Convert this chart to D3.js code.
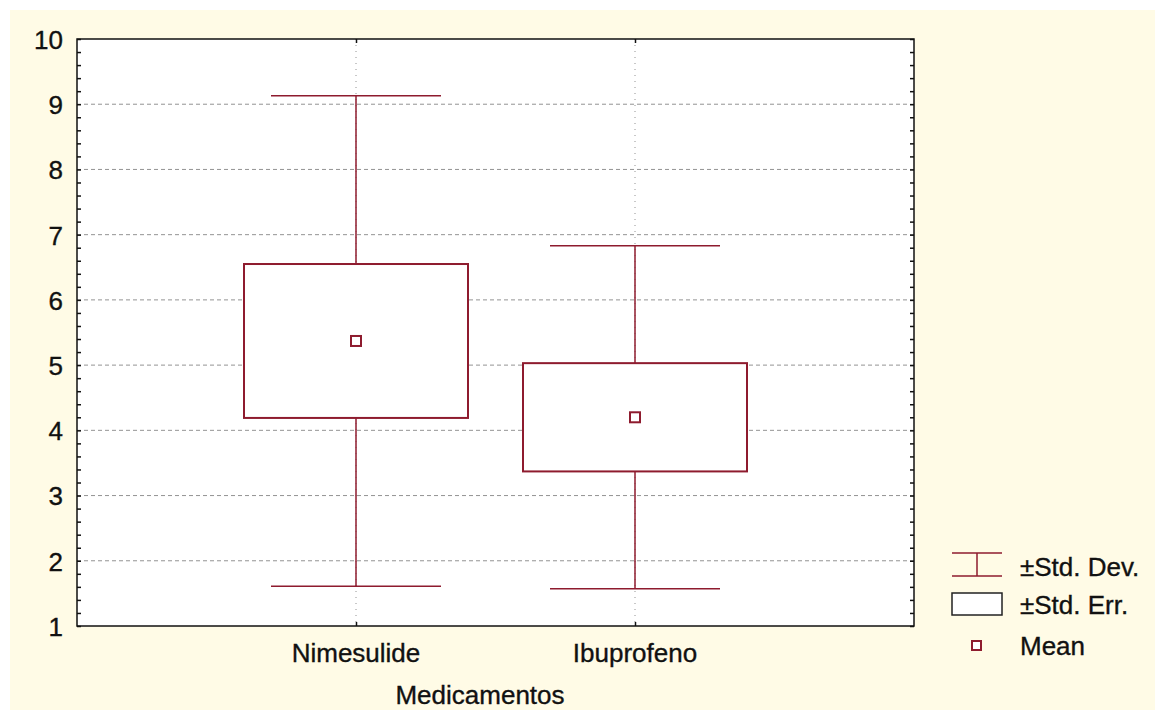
<!DOCTYPE html>
<html>
<head>
<meta charset="utf-8">
<script src="https://cdn.jsdelivr.net/npm/d3@7"></script>
<style>
  body { margin: 0; background: #fff; }
  text { font-family: "Liberation Sans", Arial, sans-serif; fill: #111; stroke: #111; stroke-width: 0.35px; }
</style>
</head>
<body>
<svg width="1155" height="718"></svg>
<script>
  // data
  const categories = ['Nimesulide', 'Ibuprofeno'];
  const means = [5.37, 4.20];
  const stdErr = [1.18, 0.83];
  const stdDev = [3.76, 2.63];
  const yTicks = [1, 2, 3, 4, 5, 6, 7, 8, 9, 10];
  const legendItems = ['±Std. Dev.', '±Std. Err.', 'Mean'];

  const width = 1155, height = 718;
  const margin = {left: 77, right: 241, top: 39, bottom: 92};
  const innerW = width - margin.left - margin.right;
  const innerH = height - margin.top - margin.bottom;
  const red = '#8e1b2e';

  const svg = d3.select('svg');

  svg.append('rect')
    .attr('x', 10).attr('y', 10)
    .attr('width', width - 10).attr('height', 700)
    .attr('fill', '#fffbe6');

  const g = svg.append('g')
    .attr('transform', `translate(${margin.left},${margin.top})`);

  const x = d3.scaleLinear().domain([0, 3]).range([0, innerW]);
  const xPos = (i) => x(i + 1);
  const y = d3.scaleLinear().domain([1, 10]).range([innerH, 0]);

  g.append('rect')
    .attr('width', innerW).attr('height', innerH)
    .attr('fill', '#fff');

  // horizontal dashed grid
  g.selectAll('.hgrid')
    .data(yTicks.filter(d => d > 1 && d < 10))
    .enter().append('line')
      .attr('class', 'hgrid')
      .attr('x1', 0).attr('x2', innerW)
      .attr('y1', d => y(d)).attr('y2', d => y(d))
      .attr('stroke', '#777').attr('stroke-width', 0.8)
      .attr('stroke-dasharray', '4,3');

  // vertical dotted grid
  g.selectAll('.vgrid')
    .data(categories)
    .enter().append('line')
      .attr('class', 'vgrid')
      .attr('x1', (d, i) => xPos(i)).attr('x2', (d, i) => xPos(i))
      .attr('y1', 0).attr('y2', innerH)
      .attr('stroke', '#777').attr('stroke-width', 0.8)
      .attr('stroke-dasharray', '1,5');

  // whiskers, boxes, means
  const capHalf = 85, boxHalf = 112;
  categories.forEach((c, i) => {
    const cx = xPos(i);
    const lo = means[i] - stdDev[i], hi = means[i] + stdDev[i];
    g.append('line')
      .attr('x1', cx).attr('x2', cx)
      .attr('y1', y(hi)).attr('y2', y(lo))
      .attr('stroke', red).attr('stroke-width', 1.5);
    [lo, hi].forEach(v => {
      g.append('line')
        .attr('x1', cx - capHalf).attr('x2', cx + capHalf)
        .attr('y1', y(v)).attr('y2', y(v))
        .attr('stroke', red).attr('stroke-width', 1.5);
    });
    g.append('rect')
      .attr('x', cx - boxHalf)
      .attr('y', y(means[i] + stdErr[i]))
      .attr('width', boxHalf * 2)
      .attr('height', y(means[i] - stdErr[i]) - y(means[i] + stdErr[i]))
      .attr('fill', '#fff')
      .attr('stroke', red).attr('stroke-width', 2);
    g.append('rect')
      .attr('x', cx - 5).attr('y', y(means[i]) - 5)
      .attr('width', 10).attr('height', 10)
      .attr('fill', '#fff')
      .attr('stroke', red).attr('stroke-width', 2);
  });

  // frame
  g.append('rect')
    .attr('width', innerW).attr('height', innerH)
    .attr('fill', 'none').attr('stroke', '#111').attr('stroke-width', 1.5);

  // y axes (left & right) with inward minor ticks
  const minor = d3.range(1, 10.001, 0.2);
  g.append('g')
    .call(d3.axisLeft(y).tickValues(yTicks).tickSize(0).tickPadding(14).tickFormat(d3.format('d')))
    .call(a => a.select('.domain').remove())
    .selectAll('text')
      .style('font-size', '26px')
      .attr('dy', '0.36em')
      .attr('fill', '#111');
  g.append('g')
    .call(d3.axisRight(y).tickValues(minor).tickSize(4).tickFormat(''))
    .call(a => a.select('.domain').remove())
    .selectAll('line').attr('stroke', '#111').attr('stroke-width', 1.5);
  g.append('g')
    .attr('transform', `translate(${innerW},0)`)
    .call(d3.axisLeft(y).tickValues(minor).tickSize(4).tickFormat(''))
    .call(a => a.select('.domain').remove())
    .selectAll('line').attr('stroke', '#111').attr('stroke-width', 1.5);

  // x axis
  g.append('g')
    .attr('transform', `translate(0,${innerH})`)
    .call(d3.axisTop(x).tickValues([1, 2]).tickSize(4).tickFormat(''))
    .call(a => a.select('.domain').remove())
    .selectAll('line').attr('stroke', '#111').attr('stroke-width', 1.5);
  g.append('g')
    .call(d3.axisBottom(x).tickValues([1, 2]).tickSize(4).tickFormat(''))
    .call(a => a.select('.domain').remove())
    .selectAll('line').attr('stroke', '#111').attr('stroke-width', 1.5);

  g.selectAll('.xlab')
    .data(categories)
    .enter().append('text')
      .attr('class', 'xlab')
      .attr('x', (d, i) => xPos(i))
      .attr('y', innerH + 36)
      .attr('text-anchor', 'middle')
      .style('font-size', '26px')
      .text(d => d);

  g.append('text')
    .attr('x', 480 - margin.left)
    .attr('y', innerH + 78)
    .attr('text-anchor', 'middle')
    .style('font-size', '26px')
    .text('Medicamentos');

  // legend
  const lg = svg.append('g').attr('transform', 'translate(952,553)');
  lg.append('line').attr('x1', 0).attr('x2', 50).attr('y1', 0).attr('y2', 0)
    .attr('stroke', red).attr('stroke-width', 1.5);
  lg.append('line').attr('x1', 0).attr('x2', 50).attr('y1', 23).attr('y2', 23)
    .attr('stroke', red).attr('stroke-width', 1.5);
  lg.append('line').attr('x1', 25).attr('x2', 25).attr('y1', 0).attr('y2', 23)
    .attr('stroke', red).attr('stroke-width', 1.5);
  lg.append('rect').attr('x', 0).attr('y', 40).attr('width', 50).attr('height', 22)
    .attr('fill', '#fff').attr('stroke', '#222').attr('stroke-width', 1.5);
  lg.append('rect').attr('x', 20).attr('y', 88).attr('width', 9).attr('height', 9)
    .attr('fill', '#fff').attr('stroke', red).attr('stroke-width', 2);
  lg.selectAll('.ltxt')
    .data(legendItems)
    .enter().append('text')
      .attr('class', 'ltxt')
      .attr('x', 68)
      .attr('y', (d, i) => [23, 61, 102][i])
      .style('font-size', '26px')
      .text(d => d);
</script>
</body>
</html>
